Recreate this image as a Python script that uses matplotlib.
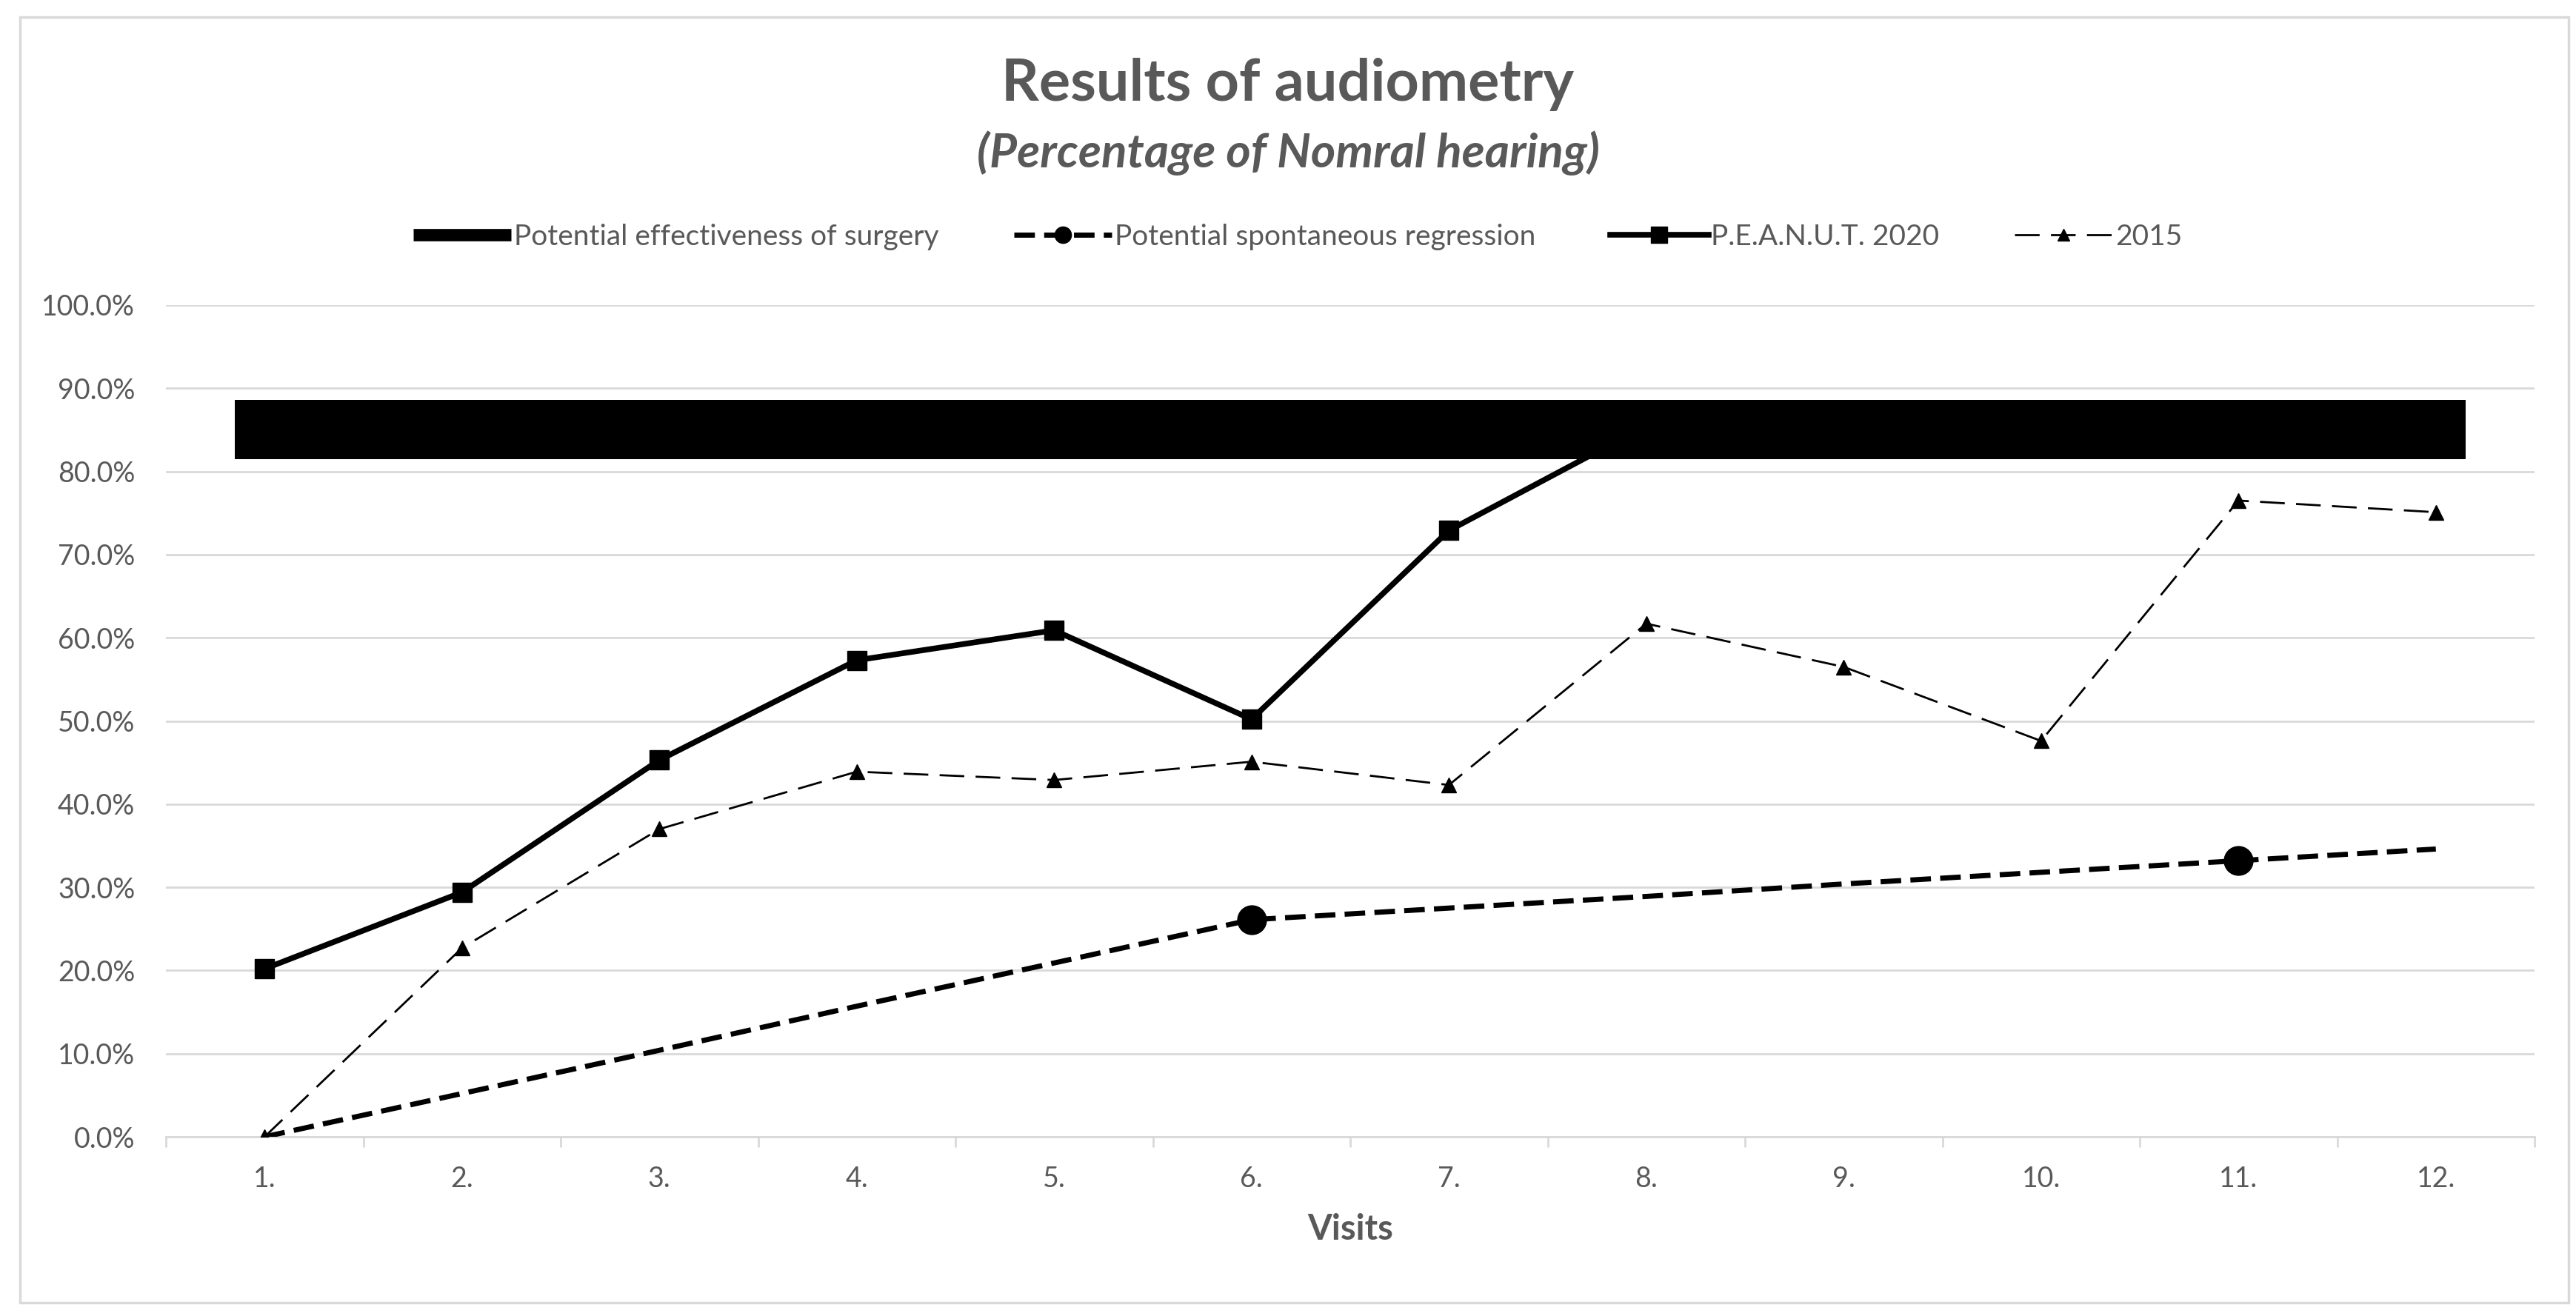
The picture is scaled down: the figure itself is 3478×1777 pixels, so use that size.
import matplotlib.pyplot as plt
from matplotlib.patches import Rectangle
from matplotlib.ticker import PercentFormatter, FixedLocator, NullFormatter

# data (fractions of normal hearing)
visits = ['1.', '2.', '3.', '4.', '5.', '6.', '7.', '8.', '9.', '10.', '11.', '12.']
surgery = [0.85, 0.85, 0.85, 0.85, 0.85, 0.85, 0.85, 0.85, 0.85, 0.85, 0.85, 0.85]
spontaneous = [0.0, 0.052, 0.104, 0.157, 0.209, 0.261, 0.275, 0.289, 0.304, 0.318, 0.332, 0.346]
peanut_2020 = [0.202, 0.294, 0.453, 0.573, 0.609, 0.502, 0.729, 0.855, 0.845, 0.86, 0.85, 0.84]
y2015 = [0.0, 0.227, 0.370, 0.439, 0.429, 0.451, 0.423, 0.617, 0.565, 0.476, 0.765, 0.751]

GRAY = '#595959'
GRID = '#d9d9d9'
plt.rcParams['font.family'] = ['Lato', 'DejaVu Sans']

W, H = 3478, 1777
fig = plt.figure(figsize=(W / 100, H / 100), dpi=100)
ax = fig.add_axes([224 / W, 1 - 1535 / H, (3422 - 224) / W, (1535 - 412) / H])

x = list(range(1, len(visits) + 1))

ax.plot(x, surgery, color='black', lw=57.6, solid_capstyle='projecting',
        label='Potential effectiveness of surgery', zorder=6)
ax.plot(x, spontaneous, color='black', lw=5, dashes=(4, 1.8), marker='o', ms=28,
        markevery=[5, 10], label='Potential spontaneous regression', zorder=4)
ax.plot(x, peanut_2020, color='black', lw=5.5, marker='s', ms=19,
        label='P.E.A.N.U.T. 2020', zorder=5)
ax.plot(x, y2015, color='black', lw=2, dashes=(12, 5.5), marker='^', ms=14,
        label='2015', zorder=3)

ax.set_xlim(0.5, 12.5)
ax.set_ylim(0, 1)
ax.yaxis.set_major_locator(FixedLocator([i / 10 for i in range(11)]))
ax.yaxis.set_major_formatter(PercentFormatter(1.0, decimals=1))
ax.grid(axis='y', color=GRID, lw=2)
ax.set_axisbelow(True)
ax.tick_params(axis='y', length=0, pad=30, labelsize=27, labelcolor=GRAY)

ax.set_xticks(x)
ax.set_xticklabels(visits)
ax.set_xticks([i + 0.5 for i in range(0, 13)], minor=True)
ax.xaxis.set_minor_formatter(NullFormatter())
ax.tick_params(axis='x', which='major', length=0, pad=28, labelsize=27, labelcolor=GRAY)
ax.tick_params(axis='x', which='minor', length=10, width=2, color=GRID)

for s in ['top', 'right', 'left']:
    ax.spines[s].set_visible(False)
ax.spines['bottom'].set_color(GRID)
ax.spines['bottom'].set_linewidth(2)

ax.set_xlabel('Visits', fontsize=34, fontweight='bold', color=GRAY, labelpad=20)

fig.text(0.5, 1 - 114 / H, 'Results of audiometry', ha='center', va='center',
         fontsize=57, fontweight='bold', color=GRAY)
fig.text(0.5, 1 - 207 / H, '(Percentage of Nomral hearing)', ha='center', va='center',
         fontsize=46, fontweight='bold', style='italic', color=GRAY)

leg = ax.legend(loc='center', bbox_to_anchor=(1752 / W, 1 - 320 / H),
                bbox_transform=fig.transFigure, ncol=4, frameon=False,
                fontsize=28, labelcolor=GRAY, handlelength=3.4, handletextpad=0.1,
                columnspacing=2.6)
hs = leg.legend_handles
hs[0].set_linewidth(12)
hs[0].set_solid_capstyle('butt')
hs[1].set_markersize(16)
hs[2].set_markersize(16)
hs[3].set_markersize(12)

fig.patches.append(Rectangle((27 / W, 1 - 1759 / H), (3468 - 27) / W, (1759 - 23) / H,
                             transform=fig.transFigure, fill=False, ec=GRID, lw=2.5))

fig.savefig('out.png', dpi=100)
